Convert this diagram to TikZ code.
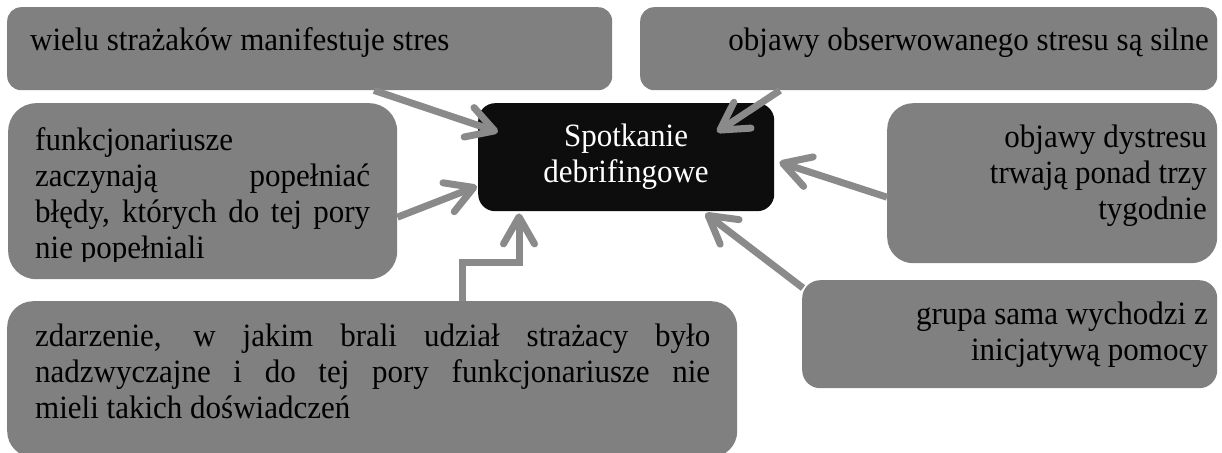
\documentclass[tikz,border=0pt]{standalone}
\usepackage{fontspec}
\setmainfont{Liberation Serif}
\usetikzlibrary{arrows.meta,calc}
\definecolor{boxgray}{HTML}{808080}
\definecolor{arrgray}{HTML}{8A8A8A}
\definecolor{darkbox}{HTML}{0D0D0D}
\newcommand\llines[1]{\scalebox{1}[1.05]{\vtop{\halign{##\hfil\cr#1\crcr}}}}
\newcommand\rlines[1]{\scalebox{1}[1.05]{\vtop{\halign{\hfil##\cr#1\crcr}}}}
\newcommand\clines[1]{\scalebox{1}[1.05]{\vtop{\halign{\hfil##\hfil\cr#1\crcr}}}}
\begin{document}
\begin{tikzpicture}[x=1pt,y=-1pt,
  box/.style={fill=boxgray, draw=none, rounded corners=#1, inner sep=0pt, anchor=north west},
  box/.default=14pt,
  txt/.style={font=\fontsize{31}{34.3}\selectfont, inner sep=0pt, text=black},
  conn/.style={draw=arrgray, line width=7pt, -{Straight Barb[length=27pt, width=31pt, round]}},
]
\useasboundingbox (0,0) rectangle (1222,452);
\clip (0,0) rectangle (1222,452);
\fill[white] (0,0) rectangle (1222,452);

% boxes
\node[box=14pt, minimum width=605pt, minimum height=83pt] (A) at (7,7) {};
\node[box=14pt, minimum width=577pt, minimum height=83pt] (B) at (640,7) {};
\node[box=28pt, minimum width=389pt, minimum height=176pt] (D) at (8,103) {};
\node[box=26pt, minimum width=330pt, minimum height=160pt] (E) at (887,103) {};
\node[box=18pt, minimum width=415pt, minimum height=108pt] (F) at (802,280) {};
\node[box=26pt, minimum width=730pt, minimum height=156pt] (G) at (7,301) {};
\node[box=17pt, fill=darkbox, minimum width=296pt, minimum height=108pt] (C) at (478,103) {};

% texts
\node[txt, anchor=base west] (tA) at (30,51) {\llines{wielu strażaków manifestuje stres}};
\node[txt, anchor=base east] (tB) at (1209,51) {\rlines{objawy obserwowanego stresu są silne}};
\begin{scope}
\clip (8,103) rectangle (397,261);
\node[txt, anchor=base west] (tD) at (35,150) {\llines{funkcjonariusze\cr
\makebox[335pt][s]{zaczynają popełniać}\cr
\makebox[335pt][s]{błędy, których do tej pory}\cr
nie popełniali}};
\end{scope}
\node[txt, anchor=base east] (tE) at (1207,147) {\rlines{objawy dystresu\cr trwają ponad trzy\cr tygodnie}};
\node[txt, anchor=base east] (tF) at (1208,324) {\rlines{grupa sama wychodzi z\cr inicjatywą pomocy}};
\node[txt, anchor=base west] (tG) at (35,346) {\llines{\makebox[675pt][s]{zdarzenie, w jakim brali udział strażacy było}\cr
\makebox[675pt][s]{nadzwyczajne i do tej pory funkcjonariusze nie}\cr
mieli takich doświadczeń}};
\node[txt, text=white, anchor=base] (tC) at (626,146) {\clines{Spotkanie\cr debrifingowe}};

% connectors
\draw[conn] ($(A.south west)+(367,0)$) -- ($(C.north west)+(20,29)$);
\draw[conn] ($(B.south west)+(140,0)$) -- ($(C.north west)+(239,29)$);
\draw[conn] ($(D.east)+(0,26)$) -- ($(C.west)+(-1,29)$);
\draw[conn] ($(E.west)+(0,14)$) -- ($(C.east)+(5,5)$);
\draw[conn] ($(F.north west)+(1,8)$) -- ($(C.south east)+(-69,2)$);
\draw[conn] ($(G.north west)+(455,0)$) -- ++(0,-39) -| ($(C.south west)+(41,2)$);
\end{tikzpicture}
\end{document}
